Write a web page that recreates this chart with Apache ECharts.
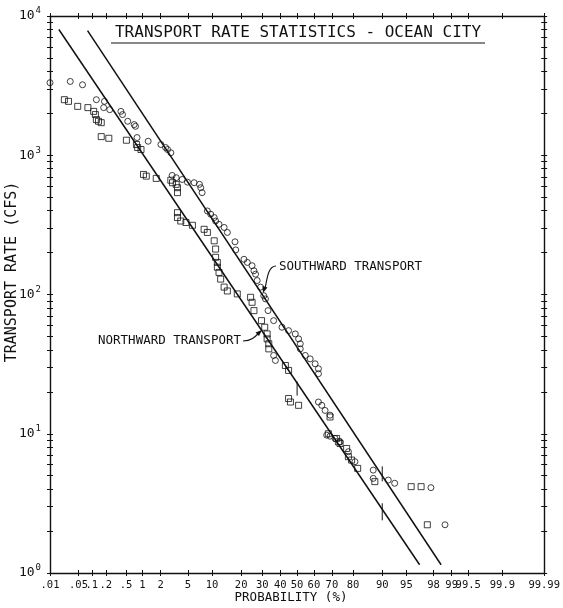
<!DOCTYPE html>
<html><head><meta charset="utf-8">
<script src="https://cdn.jsdelivr.net/npm/echarts@6/dist/echarts.min.js"></script>
<style>html,body{margin:0;padding:0;background:#fff}#c{width:563px;height:608px}</style>
</head><body><div id="c"></div>
<script>
// ---------------- data ----------------
const probTicks = [0.01,0.05,0.1,0.2,0.5,1,2,5,10,20,30,40,50,60,70,80,90,95,98,99,99.5,99.9,99.99];
const probTickLabels = ['.01','.05','.1','.2','.5','1','2','5','10','20','30','40','50','60','70','80','90','95','98','99','99.5','99.9','99.99'];
const rateMin = 1, rateMax = 10000;

// Southward transport (circles): probability (%) and rate (cfs)
const southProb = [0.01,0.032,0.062,0.126,0.187,0.18,0.24,0.40,0.43,0.54,0.71,0.75,0.80,1.25,2.02,2.39,2.56,2.87,3.0,3.44,4.18,4.95,6.06,7.08,7.35,7.64,8.85,9.68,10.6,11.0,12.0,13.6,14.7,17.5,17.8,21.2,22.7,24.9,25.8,26.6,27.4,29.1,30.8,31.7,33.1,36.2,36.2,37.2,41.0,44.9,48.9,50.9,51.9,51.9,54.9,57.8,60.7,62.6,62.6,62.6,64.5,66.3,69.0,67.2,69.0,71.6,74.1,78.0,80.8,87.4,87.4,91.5,92.9,97.8,98.7];
const southRate = [3318,3388,3206,2506,2438,2198,2125,2066,1959,1754,1660,1614,1340,1261,1194,1136,1099,1042,716,690,670,641,635,618,585,539,398,377,357,337,319,303,279,239,209,179,170,161,148,140,126,113,98,93,76.6,64.9,36.5,33.6,58.2,55,52.1,48.0,44.3,40.7,36.5,34.5,31.8,29.3,27.0,16.9,16.0,14.7,13.6,9.77,9.6,9.25,8.75,7.43,6.30,5.48,4.78,4.65,4.41,4.10,2.22];

// Northward transport (squares)
const northProb = [0.023,0.029,0.048,0.082,0.11,0.12,0.126,0.14,0.16,0.16,0.23,0.51,0.78,0.82,0.94,1.04,1.16,1.70,2.87,3.04,3.44,3.59,3.59,3.59,3.59,4.0,4.72,5.76,8.08,8.85,10.6,11.0,11.0,11.5,11.5,12.0,12.5,13.6,14.7,18.4,24.2,24.9,25.8,29.6,31.3,32.6,32.6,33.5,33.5,43.0,44.9,44.9,46.0,50.9,69.0,68.1,72.4,73.3,74.1,77.2,78.0,79.4,81.9,87.9,95.7,96.9,97.5];
const northRate = [2506,2438,2244,2198,2066,1959,1803,1754,1714,1361,1324,1282,1194,1136,1099,728,708,682,662,635,618,585,539,387,357,337,329,314,294,279,243,212,185,170,157,144,129,113,106,101,95.5,87.9,76.6,64.9,58.2,52.1,48.0,44.3,40.7,30.9,28.5,17.9,16.9,16.0,13.2,10.0,9.25,8.75,8.51,7.84,6.84,6.47,5.64,4.53,4.17,4.17,2.22];

// fitted lines (end points)
const southFitProb = [0.0805, 98.49];
const southFitRate = [7863, 1.146];
const northFitProb = [0.0168, 96.74];
const northFitRate = [8000, 1.146];

// short vertical marks on the fitted lines
const markProb = [50, 90, 90];
const markHigh = [23.7, 5.83, 3.17];
const markLow  = [18.8, 4.55, 2.39];

// ---------------- helpers ----------------
function probit(p){
  const a=[-3.969683028665376e+01,2.209460984245205e+02,-2.759285104469687e+02,1.383577518672690e+02,-3.066479806614716e+01,2.506628277459239e+00];
  const b=[-5.447609879822406e+01,1.615858368580409e+02,-1.556989798598866e+02,6.680131188771972e+01,-1.328068155288572e+01];
  const c=[-7.784894002430293e-03,-3.223964580411365e-01,-2.400758277161838e+00,-2.549732539343734e+00,4.374664141464968e+00,2.938163982698783e+00];
  const d=[7.784695709041462e-03,3.224671290700398e-01,2.445134137142996e+00,3.754408661907416e+00];
  const pl=0.02425, ph=1-pl; let q,r;
  if(p<pl){q=Math.sqrt(-2*Math.log(p));return (((((c[0]*q+c[1])*q+c[2])*q+c[3])*q+c[4])*q+c[5])/((((d[0]*q+d[1])*q+d[2])*q+d[3])*q+1);}
  if(p<=ph){q=p-0.5;r=q*q;return (((((a[0]*r+a[1])*r+a[2])*r+a[3])*r+a[4])*r+a[5])*q/(((((b[0]*r+b[1])*r+b[2])*r+b[3])*r+b[4])*r+1);}
  q=Math.sqrt(-2*Math.log(1-p));return -(((((c[0]*q+c[1])*q+c[2])*q+c[3])*q+c[4])*q+c[5])/((((d[0]*q+d[1])*q+d[2])*q+d[3])*q+1);
}
const z = pct => probit(pct/100);
const zTicks = probTicks.map(z);
const zMin = zTicks[0], zMax = zTicks[zTicks.length-1];
const logMin = Math.log10(rateMin), logMax = Math.log10(rateMax);
const yTickLogs = [];
for (let n = logMin; n < logMax; n++) for (let k = 1; k <= 9; k++) yTickLogs.push(n + Math.log10(k));
yTickLogs.push(logMax);

const F = '"DejaVu Sans Mono", "Liberation Mono", monospace';
const INK = '#111';
const tickStyle = {color: INK, width: 1};

function xAx(pos, opts){
  return Object.assign({
    type:'value', position:pos, min:zMin, max:zMax, splitLine:{show:false},
    axisLine:{show:false, onZero:false}, axisLabel:{show:false},
    axisTick:{show:true, customValues:zTicks, length:3, inside:false, lineStyle:tickStyle}
  }, opts);
}
function yAx(pos, opts){
  return Object.assign({
    type:'value', position:pos, min:logMin, max:logMax, splitLine:{show:false},
    axisLine:{show:false, onZero:false}, axisLabel:{show:false},
    axisTick:{show:true, customValues:yTickLogs, length:3, inside:false, lineStyle:tickStyle}
  }, opts);
}
const lineAxis = {show:true, onZero:false, lineStyle:{color:INK, width:1.4}};

const xAxes = [
  xAx('bottom', {axisLine:lineAxis, axisLabel:{show:true, customValues:zTicks, margin:7,
    fontFamily:F, fontSize:10.5, color:INK,
    formatter: v => { let bi=0, bd=1e9; zTicks.forEach((t,i)=>{const d=Math.abs(t-v); if(d<bd){bd=d;bi=i;}}); return probTickLabels[bi]; }}}),
  xAx('bottom', {axisTick:{show:true, customValues:zTicks, length:3, inside:true, lineStyle:tickStyle}}),
  xAx('top', {axisLine:lineAxis}),
  xAx('top', {axisTick:{show:true, customValues:zTicks, length:3, inside:true, lineStyle:tickStyle}})
];
const yAxes = [
  {type:'log', logBase:10, position:'left', min:rateMin, max:rateMax, splitLine:{show:false},
   axisLine:lineAxis, axisTick:{show:false}, minorTick:{show:false},
   axisLabel:{show:true, margin:9, formatter: v => '{b|10}{e|' + Math.round(Math.log10(v)) + '}',
     rich:{ b:{fontFamily:F, fontSize:13, color:INK}, e:{fontFamily:F, fontSize:9, color:INK, padding:[0,0,10,1]} }}},
  yAx('left', {}),
  yAx('left', {axisTick:{show:true, customValues:yTickLogs, length:3, inside:true, lineStyle:tickStyle}}),
  yAx('right', {axisLine:lineAxis}),
  yAx('right', {axisTick:{show:true, customValues:yTickLogs, length:3, inside:true, lineStyle:tickStyle}})
];

const pts = (P, R) => P.map((p,i) => [z(p), R[i]]);
const fitLine = (P, R) => ({type:'line', xAxisIndex:0, yAxisIndex:0, data:pts(P,R), symbol:'none',
  lineStyle:{color:INK, width:1.5}, silent:true, z:3});
const series = [
  fitLine(southFitProb, southFitRate),
  fitLine(northFitProb, northFitRate),
  {type:'scatter', name:'Southward', xAxisIndex:0, yAxisIndex:0, data:pts(southProb, southRate),
   symbol:'circle', symbolSize:6, itemStyle:{color:'rgba(255,255,255,0)', borderColor:INK, borderWidth:1}, z:4},
  {type:'scatter', name:'Northward', xAxisIndex:0, yAxisIndex:0, data:pts(northProb, northRate),
   symbol:'rect', symbolSize:6, itemStyle:{color:'rgba(255,255,255,0)', borderColor:INK, borderWidth:1}, z:4}
];
markProb.forEach((p,i) => series.push({type:'line', xAxisIndex:0, yAxisIndex:0, symbol:'none', silent:true,
  data:[[z(p), markHigh[i]],[z(p), markLow[i]]], lineStyle:{color:INK, width:1}}));

const txt = (x, y, text, size, align, extra) => Object.assign({type:'text', x:x, y:y, silent:true,
  style:{text:text, x:0, y:0, font:size+'px '+F, fill:INK, align:align||'center', verticalAlign:'middle'}}, extra||{});

const graphic = [
  txt(298, 33, 'TRANSPORT RATE STATISTICS - OCEAN CITY', 16),
  {type:'line', silent:true, shape:{x1:111, y1:43, x2:485, y2:43}, style:{stroke:INK, lineWidth:1.2}},
  txt(12, 272, 'TRANSPORT RATE (CFS)', 15, 'center', {rotation:Math.PI/2}),
  txt(291, 598, 'PROBABILITY (%)', 12.5),
  txt(279, 267, 'SOUTHWARD TRANSPORT', 12.5, 'left'),
  txt(241, 341, 'NORTHWARD TRANSPORT', 12.5, 'right'),
  {type:'bezierCurve', silent:true, shape:{x1:276, y1:266, cpx1:268, cpy1:266, cpx2:267, cpy2:279, x2:265, y2:289}, style:{stroke:INK, lineWidth:1.1, fill:null}},
  {type:'polygon', silent:true, shape:{points:[[263,293],[262.5,286],[267.5,287.5]]}, style:{fill:INK}},
  {type:'bezierCurve', silent:true, shape:{x1:243, y1:341, cpx1:251, cpy1:341, cpx2:255, cpy2:337, x2:259, y2:333}, style:{stroke:INK, lineWidth:1.1, fill:null}},
  {type:'polygon', silent:true, shape:{points:[[262,330],[255.5,332.5],[259,336]]}, style:{fill:INK}}
];

const chart = echarts.init(document.getElementById('c'), null, {renderer:'canvas'});
chart.setOption({
  animation:false, backgroundColor:'#fff',
  grid:{left:50, right:16, top:16, bottom:35, containLabel:false},
  xAxis:xAxes, yAxis:yAxes, series:series, graphic:graphic
});
</script></body></html>
